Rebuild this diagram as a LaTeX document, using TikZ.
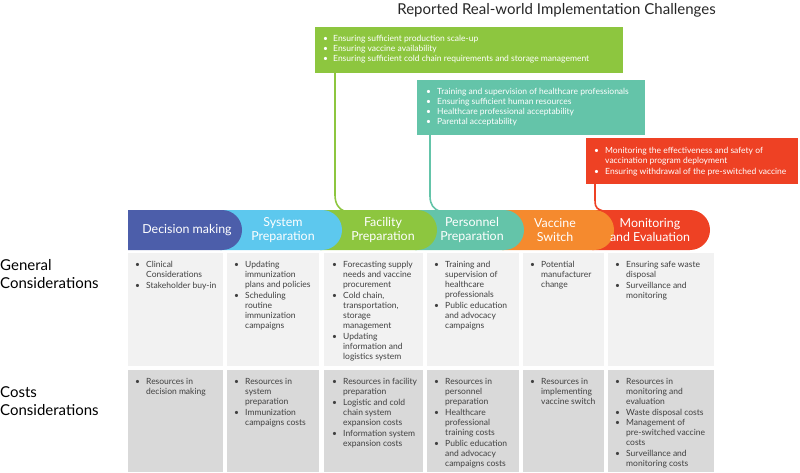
\documentclass[tikz,border=0pt]{standalone}
\usepackage{fontspec}
\setmainfont{Lato}
\definecolor{cdm}{HTML}{4C5EAA}
\definecolor{csp}{HTML}{5DC8EE}
\definecolor{cfp}{HTML}{8DC63F}
\definecolor{cpp}{HTML}{64C4A9}
\definecolor{cvs}{HTML}{F58A2E}
\definecolor{cmo}{HTML}{EE4124}
\definecolor{cgen}{HTML}{F2F2F2}
\definecolor{ccost}{HTML}{D9D9D9}
\definecolor{ctxt}{HTML}{404040}
\newlength{\bw}\setlength{\bw}{11pt}
\newcommand{\itm}[1]{\makebox[\bw][l]{\textbullet}\begin{tabular}[t]{@{}l@{}}#1\end{tabular}}
\begin{document}
\begin{tikzpicture}[x=1pt,y=-1pt,
  segtxt/.style={text=white,font=\fontsize{12.4}{14}\selectfont,align=center,inner sep=0pt},
  cellbox/.style={anchor=north west,inner sep=0pt,outer sep=0pt},
  celltxt/.style={anchor=north west,inner sep=0pt,align=left,text=ctxt,font=\fontsize{8.5}{10}\selectfont},
  calltxt/.style={anchor=north west,inner sep=0pt,align=left,text=white,font=\fontsize{8.5}{10}\selectfont},
  rowlab/.style={anchor=north west,inner sep=0pt,align=left,text=black,font=\fontsize{15}{18}\selectfont},
  link/.style={line width=1.6pt}]
\useasboundingbox (0,0) rectangle (800,473);
% title
\node[font=\fontsize{15}{17}\selectfont,text=black!85] (title) at (556.5,10.5) {Reported Real-world Implementation Challenges};
% band segments (drawn last to first)
\foreach \a/\b/\c in {592/710/cmo,502/614/cvs,415/524/cpp,320/437/cfp,220/342/csp,128/242/cdm}
  \fill[\c] (\a,210) -- (\b-20,210) arc[start angle=-90,end angle=90,radius=20] -- (\a,250) -- cycle;
\node[segtxt] (sdm) at (187,230) {Decision making};
\node[segtxt] (ssp) at (283,230) {System\\Preparation};
\node[segtxt] (sfp) at (383,230) {Facility\\Preparation};
\node[segtxt] (spp) at (472,230) {Personnel\\Preparation};
\node[segtxt] (svs) at (555,230) {Vaccine\\Switch};
\node[segtxt] (smo) at (650,230) {Monitoring\\and Evaluation};
% callouts
\node[cellbox,fill=cfp,minimum width=308pt,minimum height=46pt] (cf) at (315,27) {};
\node[cellbox,fill=cpp,minimum width=228pt,minimum height=55pt] (cp) at (417,80) {};
\node[cellbox,fill=cmo,minimum width=212pt,minimum height=46pt] (cm) at (586,138) {};
\setlength{\bw}{10pt}
\node[calltxt] (cft) at ([xshift=8pt,yshift=-7.5pt]cf.north west) {\itm{Ensuring sufficient production scale-up}\\\itm{Ensuring vaccine availability}\\\itm{Ensuring sufficient cold chain requirements and storage management}};
\setlength{\bw}{11pt}
\node[calltxt] (cpt) at ([xshift=9pt,yshift=-7.5pt]cp.north west) {\itm{Training and supervision of healthcare professionals}\\\itm{Ensuring sufficient human resources}\\\itm{Healthcare professional acceptability}\\\itm{Parental acceptability}};
\node[calltxt] (cmt) at ([xshift=8pt,yshift=-8.5pt]cm.north west) {\itm{Monitoring the effectiveness and safety of\\vaccination program deployment}\\\itm{Ensuring withdrawal of the pre-switched vaccine}};
% connectors
\coordinate (fin) at (344,211);
\coordinate (pin) at (439,211);
\coordinate (min) at (603,211);
\draw[link,cfp] ([xshift=20pt]cf.south west) -- ++(0,122) .. controls +(0,9) and +(-5,-2) .. (fin);
\draw[link,cpp] ([xshift=13pt]cp.south west) -- ++(0,61) .. controls +(0,9) and +(-5,-2) .. (pin);
\draw[link,cmo] ([xshift=9pt]cm.south west) -- ++(0,16) .. controls +(0,9) and +(-5,-2) .. (min);
% row labels
\node[rowlab] (lgen) at (0,259.5) {General\\Considerations};
\node[rowlab] (lcost) at (0,386.5) {Costs\\Considerations};
% general and cost rows
\foreach \n/\x/\w in {1/128/95,2/227/92,3/324/99,4/427/92,5/523/81,6/608/106}{
  \node[cellbox,fill=cgen,minimum width=\w pt,minimum height=113pt] (g\n) at (\x,253) {};
  \node[cellbox,fill=ccost,minimum width=\w pt,minimum height=102pt] (c\n) at (\x,370) {};
}
\node[celltxt] (g1t) at ([xshift=7pt,yshift=-7.5pt]g1.north west) {\itm{Clinical\\Considerations}\\\itm{Stakeholder buy-in}};
\node[celltxt] (g2t) at ([xshift=7pt,yshift=-7.5pt]g2.north west) {\itm{Updating\\immunization\\plans and policies}\\\itm{Scheduling\\routine\\immunization\\campaigns}};
\node[celltxt] (g3t) at ([xshift=8pt,yshift=-7.5pt]g3.north west) {\itm{Forecasting supply\\needs and vaccine\\procurement}\\\itm{Cold chain,\\transportation,\\storage\\management}\\\itm{Updating\\information and\\logistics system}};
\node[celltxt] (g4t) at ([xshift=7pt,yshift=-7.5pt]g4.north west) {\itm{Training and\\supervision of\\healthcare\\professionals}\\\itm{Public education\\and advocacy\\campaigns}};
\node[celltxt] (g5t) at ([xshift=7pt,yshift=-7.5pt]g5.north west) {\itm{Potential\\manufacturer\\change}};
\node[celltxt] (g6t) at ([xshift=7pt,yshift=-7.5pt]g6.north west) {\itm{Ensuring safe waste\\disposal}\\\itm{Surveillance and\\monitoring}};
\node[celltxt] (c1t) at ([xshift=7pt,yshift=-7.5pt]c1.north west) {\itm{Resources in\\decision making}};
\node[celltxt] (c2t) at ([xshift=7pt,yshift=-7.5pt]c2.north west) {\itm{Resources in\\system\\preparation}\\\itm{Immunization\\campaigns costs}};
\node[celltxt] (c3t) at ([xshift=8pt,yshift=-7.5pt]c3.north west) {\itm{Resources in facility\\preparation}\\\itm{Logistic and cold\\chain system\\expansion costs}\\\itm{Information system\\expansion costs}};
\node[celltxt] (c4t) at ([xshift=7pt,yshift=-7.5pt]c4.north west) {\itm{Resources in\\personnel\\preparation}\\\itm{Healthcare\\professional\\training costs}\\\itm{Public education\\and advocacy\\campaigns costs}};
\node[celltxt] (c5t) at ([xshift=7pt,yshift=-7.5pt]c5.north west) {\itm{Resources in\\implementing\\vaccine switch}};
\node[celltxt] (c6t) at ([xshift=7pt,yshift=-7.5pt]c6.north west) {\itm{Resources in\\monitoring and\\evaluation}\\\itm{Waste disposal costs}\\\itm{Management of\\pre-switched vaccine\\costs}\\\itm{Surveillance and\\monitoring costs}};
\end{tikzpicture}
\end{document}
